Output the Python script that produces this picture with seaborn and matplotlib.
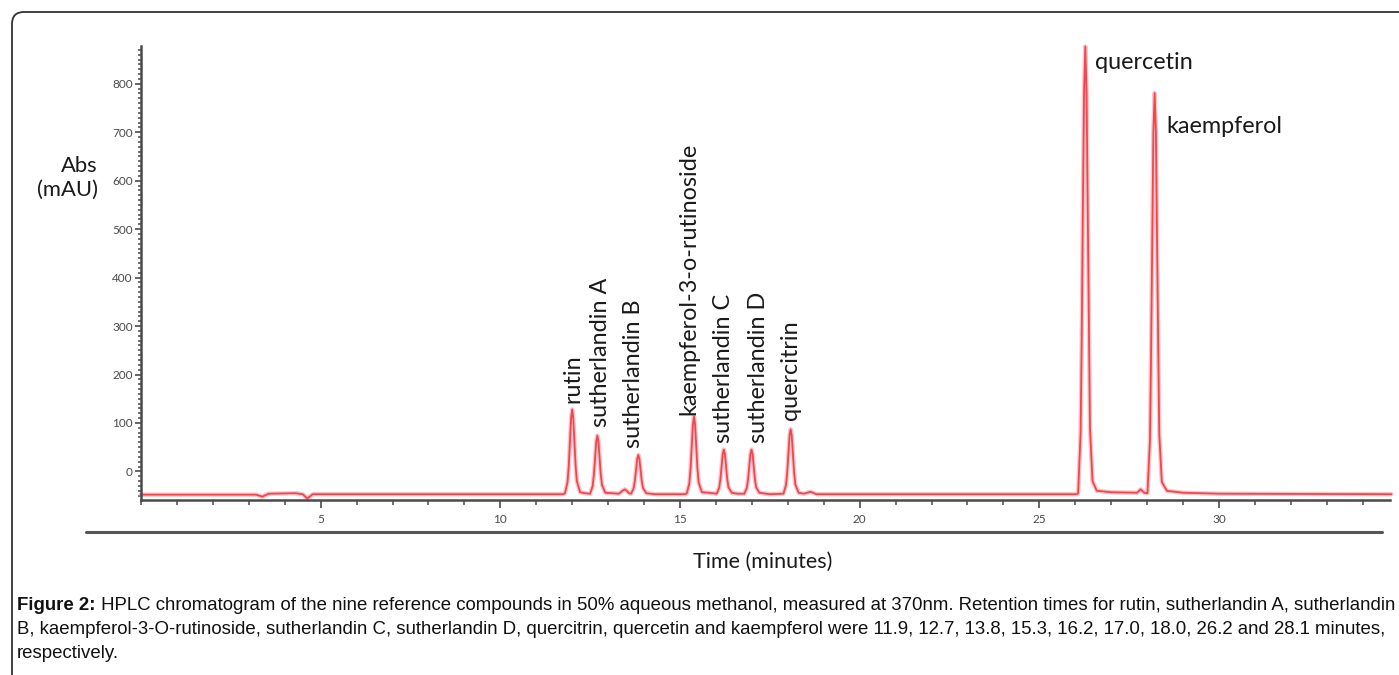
import numpy as np
import pandas as pd
import seaborn as sns
import matplotlib.pyplot as plt
from matplotlib.ticker import MultipleLocator
from matplotlib.patches import FancyBboxPatch
from matplotlib.lines import Line2D

# chromatogram trace (time in minutes, absorbance in mAU)
time_min = [
    0.0, 3.2, 3.38, 3.55, 4.3, 4.5, 4.63, 4.78, 11.75,
    # rutin
    11.80, 11.87, 11.905, 11.935, 11.97, 12.00, 12.03, 12.065, 12.095, 12.13, 12.22, 12.35,
    # sutherlandin A
    12.50, 12.57, 12.605, 12.635, 12.67, 12.70, 12.73, 12.765, 12.795, 12.83, 12.92,
    13.30, 13.40, 13.46, 13.52, 13.58,
    # sutherlandin B
    13.64, 13.71, 13.745, 13.775, 13.81, 13.84, 13.87, 13.905, 13.935, 13.97, 14.06,
    14.3, 15.15,
    # kaempferol-3-o-rutinoside
    15.19, 15.26, 15.295, 15.325, 15.36, 15.39, 15.42, 15.455, 15.485, 15.52, 15.61, 15.8,
    # sutherlandin C
    16.02, 16.09, 16.125, 16.155, 16.19, 16.22, 16.25, 16.285, 16.315, 16.35, 16.44, 16.6,
    # sutherlandin D
    16.79, 16.86, 16.895, 16.925, 16.96, 16.99, 17.02, 17.055, 17.085, 17.12, 17.21, 17.5,
    # quercitrin
    17.88, 17.95, 17.985, 18.015, 18.05, 18.08, 18.11, 18.145, 18.175, 18.21, 18.30,
    18.45, 18.63, 18.8,
    # quercetin
    26.05, 26.08, 26.15, 26.18, 26.21, 26.245, 26.28, 26.315, 26.35, 26.38, 26.41, 26.48,
    26.6, 27.0, 27.6, 27.72, 27.82, 27.92,
    # kaempferol
    28.01, 28.08, 28.11, 28.14, 28.175, 28.21, 28.245, 28.28, 28.31, 28.34, 28.41,
    28.55, 29.0, 30.0, 34.8,
]
abs_mau = [
    -48, -48, -52, -46, -45, -47, -56, -47, -47,
    -45, -22, 12, 58, 110, 128, 110, 58, 12, -20, -43, -45,
    -46, -30, -6, 26, 62, 74, 62, 26, -6, -28, -44,
    -46, -40, -37, -40, -45,
    -46, -35, -19, 2, 26, 34, 26, 2, -19, -34, -45,
    -47, -47,
    -45, -25, 7, 49, 97, 113, 97, 49, 7, -23, -43, -44,
    -46, -34, -16, 8, 36, 45, 36, 8, -16, -33, -44, -46,
    -46, -34, -16, 8, 36, 45, 36, 8, -16, -33, -44, -47,
    -46, -28, -1, 33, 74, 87, 74, 33, -1, -27, -44,
    -46, -42, -47,
    -47, -45, 80, 270, 520, 780, 877, 780, 520, 280, 90, -20,
    -40, -43, -44, -44, -37, -44,
    -45, 65, 240, 460, 700, 781, 700, 460, 250, 75, -22,
    -40, -44, -46, -47,
]

# peak annotations
peak_names = ["rutin", "sutherlandin A", "sutherlandin B", "kaempferol-3-o-rutinoside",
              "sutherlandin C", "sutherlandin D", "quercitrin"]
peak_label_t = [12.01, 12.79, 13.72, 15.25, 16.20, 17.19, 18.08]
peak_label_y = [142, 92, 48, 116, 58, 58, 106]

caption_bold = "Figure 2:"
caption_lines = [
    " HPLC chromatogram of the nine reference compounds in 50% aqueous methanol, measured at 370nm. "
    "Retention times for rutin, sutherlandin A, sutherlandin",
    "B, kaempferol-3-O-rutinoside, sutherlandin C, sutherlandin D, quercitrin, quercetin and kaempferol "
    "were 11.9, 12.7, 13.8, 15.3, 16.2, 17.0, 18.0, 26.2 and 28.1 minutes,",
    "respectively.",
]

df = pd.DataFrame({"time": time_min, "abs": abs_mau})

sns.set_style("white")
plt.rcParams["font.family"] = ["Lato", "DejaVu Sans"]

W, H = 1399, 675
fig = plt.figure(figsize=(W / 100, H / 100), dpi=100)
ax = fig.add_axes([141 / W, 1 - 500 / H, (1390 - 141) / W, (500 - 46) / H])

# soft halo + main trace
sns.lineplot(data=df, x="time", y="abs", ax=ax, color="#f7a0a4", linewidth=3.2,
             alpha=0.6, sort=False, clip_on=False)
sns.lineplot(data=df, x="time", y="abs", ax=ax, color="#f04650", linewidth=1.3,
             sort=False, clip_on=False)

ax.set_xlim(0, 34.76)
ax.set_ylim(-59, 878)
ax.set_xticks(range(5, 35, 5))
ax.xaxis.set_minor_locator(MultipleLocator(1))
ax.set_yticks(range(0, 900, 100))
ax.yaxis.set_minor_locator(MultipleLocator(10))
ax.set_xlabel("")
ax.set_ylabel("")

for side in ["top", "right"]:
    ax.spines[side].set_visible(False)
for side in ["left", "bottom"]:
    ax.spines[side].set_color("#4a4a4a")
    ax.spines[side].set_linewidth(1.8)

ax.tick_params(axis="x", which="major", direction="out", length=6, width=1.2, color="#4a4a4a",
               labelsize=8.5, labelcolor="#4a4a4a", pad=4, bottom=True)
ax.tick_params(axis="x", which="minor", direction="out", length=3.5, width=1.1, color="#4a4a4a", bottom=True)
ax.tick_params(axis="y", which="major", direction="out", length=4.5, width=1.2, color="#4a4a4a",
               labelsize=8.5, labelcolor="#4a4a4a", pad=1.5, left=True)
ax.tick_params(axis="y", which="minor", direction="out", length=2.2, width=1.1, color="#4a4a4a", left=True)

# rotated peak labels
for name, t, y in zip(peak_names, peak_label_t, peak_label_y):
    ax.text(t, y, name, rotation=90, ha="center", va="bottom", fontsize=16.8, color="#1a1a1a")

ax.text(26.55, 843, "quercetin", ha="left", va="center", fontsize=16.8, color="#1a1a1a")
ax.text(28.55, 711, "kaempferol", ha="left", va="center", fontsize=16.8, color="#1a1a1a")

# axis titles
fig.text(98 / W, 1 - 178 / H, "Abs\n(mAU)", ha="right", va="center", fontsize=15.8,
         color="#1a1a1a", multialignment="right", linespacing=1.25)
fig.text(763 / W, 1 - 562 / H, "Time (minutes)", ha="center", va="center", fontsize=15.5,
         color="#1a1a1a")

# grey rule under the axis
fig.add_artist(Line2D([86 / W, 1382 / W], [1 - 532 / H, 1 - 532 / H], color="#555555",
                      linewidth=2.2, transform=fig.transFigure))

# rounded frame around the figure panel
frame = FancyBboxPatch((0.12, -0.5), 15.0, 6.63 + 0.5, boxstyle="round,pad=0,rounding_size=0.12",
                       transform=fig.dpi_scale_trans, facecolor="none", edgecolor="#333333",
                       linewidth=1.3)
fig.add_artist(frame)

# caption
cap_font = ["Liberation Sans", "DejaVu Sans"]
cap_size = 13.4
fig.canvas.draw()
renderer = fig.canvas.get_renderer()
y0 = 606
for i, line in enumerate(caption_lines):
    yy = 1 - (y0 + 24 * i) / H
    x_start = 17 / W
    if i == 0:
        tb = fig.text(x_start, yy, caption_bold, ha="left", va="center", fontsize=cap_size,
                      fontweight="bold", family=cap_font, color="#111111")
        bb = tb.get_window_extent(renderer)
        x_start = bb.x1 / W
    fig.text(x_start, yy, line, ha="left", va="center", fontsize=cap_size,
             family=cap_font, color="#111111")

fig.savefig("out.png", dpi=100, facecolor="white")
